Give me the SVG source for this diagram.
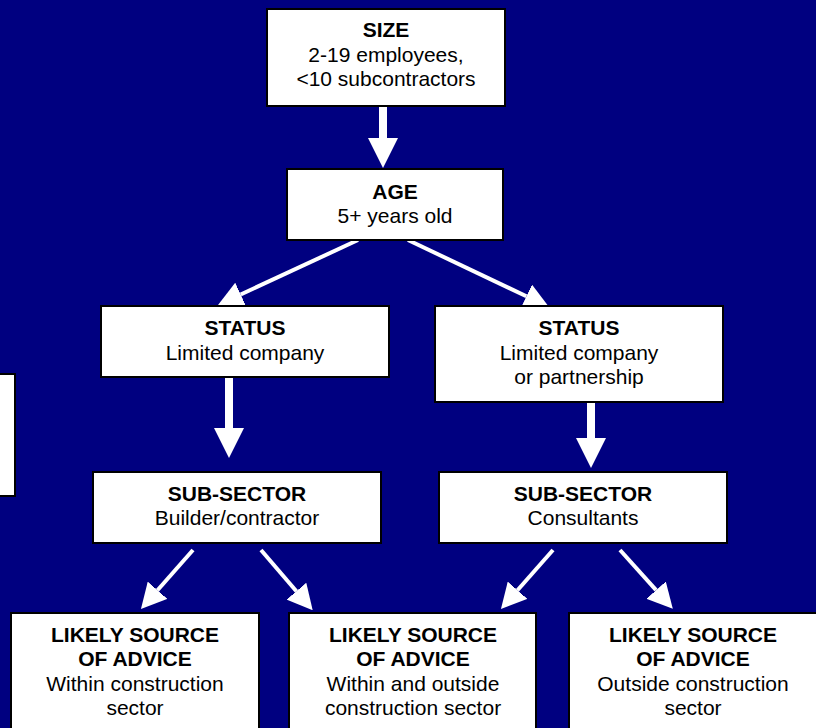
<svg xmlns="http://www.w3.org/2000/svg" width="816" height="728" viewBox="0 0 816 728">
<style>
.box{fill:#fff;stroke:#000;stroke-width:2}
text{font-family:"Liberation Sans",Arial,sans-serif;font-size:21px;fill:#000;text-anchor:middle}
.b{font-weight:bold}
.thin{stroke:#fff;stroke-width:4;fill:none}
.thick{stroke:#fff;stroke-width:8;fill:none}
</style>
<defs>
<marker id="hs" viewBox="0 0 25 26" refX="0" refY="13" markerWidth="25" markerHeight="26" markerUnits="userSpaceOnUse" orient="auto">
<path d="M0,0 L25,13 L0,26 z" fill="#fff"/>
</marker>
<marker id="hl" viewBox="0 0 30 30" refX="0" refY="15" markerWidth="30" markerHeight="30" markerUnits="userSpaceOnUse" orient="auto">
<path d="M0,0 L30,15 L0,30 z" fill="#fff"/>
</marker>
</defs>
<rect width="816" height="728" fill="#000080"/>
<g id="connectors">
<line class="thick" x1="383" y1="106" x2="383" y2="138" marker-end="url(#hl)"/>
<line class="thin" x1="358" y1="240" x2="240.7" y2="294.5" marker-end="url(#hs)"/>
<line class="thin" x1="408" y1="240" x2="526.4" y2="296.3" marker-end="url(#hs)"/>
<line class="thick" x1="229" y1="377" x2="229" y2="428" marker-end="url(#hl)"/>
<line class="thick" x1="591" y1="402" x2="591" y2="438" marker-end="url(#hl)"/>
<line class="thin" x1="193" y1="550" x2="157.5" y2="590.2" marker-end="url(#hs)"/>
<line class="thin" x1="261" y1="550" x2="296.4" y2="591.2" marker-end="url(#hs)"/>
<line class="thin" x1="553" y1="550" x2="517.5" y2="590.2" marker-end="url(#hs)"/>
<line class="thin" x1="620" y1="550" x2="656.1" y2="590.2" marker-end="url(#hs)"/>
</g>
<g id="side-box"><rect class="box" x="-10" y="374" width="25" height="122"/></g>
<g id="size">
<rect class="box" x="267" y="9" width="238" height="97"/>
<text class="b" x="386" y="37">SIZE</text>
<text x="386" y="62">2-19 employees,</text>
<text x="386" y="86">&lt;10 subcontractors</text>
</g>
<g id="age">
<rect class="box" x="287" y="169" width="216" height="71"/>
<text class="b" x="395" y="199">AGE</text>
<text x="395" y="223">5+ years old</text>
</g>
<g id="status-left">
<rect class="box" x="101" y="306" width="288" height="71"/>
<text class="b" x="245" y="335">STATUS</text>
<text x="245" y="360">Limited company</text>
</g>
<g id="status-right">
<rect class="box" x="435" y="306" width="288" height="96"/>
<text class="b" x="579" y="335">STATUS</text>
<text x="579" y="360">Limited company</text>
<text x="579" y="384">or partnership</text>
</g>
<g id="subsector-left">
<rect class="box" x="93" y="472" width="288" height="71"/>
<text class="b" x="237" y="501">SUB-SECTOR</text>
<text x="237" y="525">Builder/contractor</text>
</g>
<g id="subsector-right">
<rect class="box" x="439" y="472" width="288" height="71"/>
<text class="b" x="583" y="501">SUB-SECTOR</text>
<text x="583" y="525">Consultants</text>
</g>
<g id="advice-within">
<rect class="box" x="11" y="613" width="248" height="130"/>
<text class="b" x="135" y="642">LIKELY SOURCE</text>
<text class="b" x="135" y="666">OF ADVICE</text>
<text x="135" y="691">Within construction</text>
<text x="135" y="715">sector</text>
</g>
<g id="advice-both">
<rect class="box" x="289" y="613" width="247" height="130"/>
<text class="b" x="413" y="642">LIKELY SOURCE</text>
<text class="b" x="413" y="666">OF ADVICE</text>
<text x="413" y="691">Within and outside</text>
<text x="413" y="715">construction sector</text>
</g>
<g id="advice-outside">
<rect class="box" x="569" y="613" width="260" height="130"/>
<text class="b" x="693" y="642">LIKELY SOURCE</text>
<text class="b" x="693" y="666">OF ADVICE</text>
<text x="693" y="691">Outside construction</text>
<text x="693" y="715">sector</text>
</g>
</svg>
